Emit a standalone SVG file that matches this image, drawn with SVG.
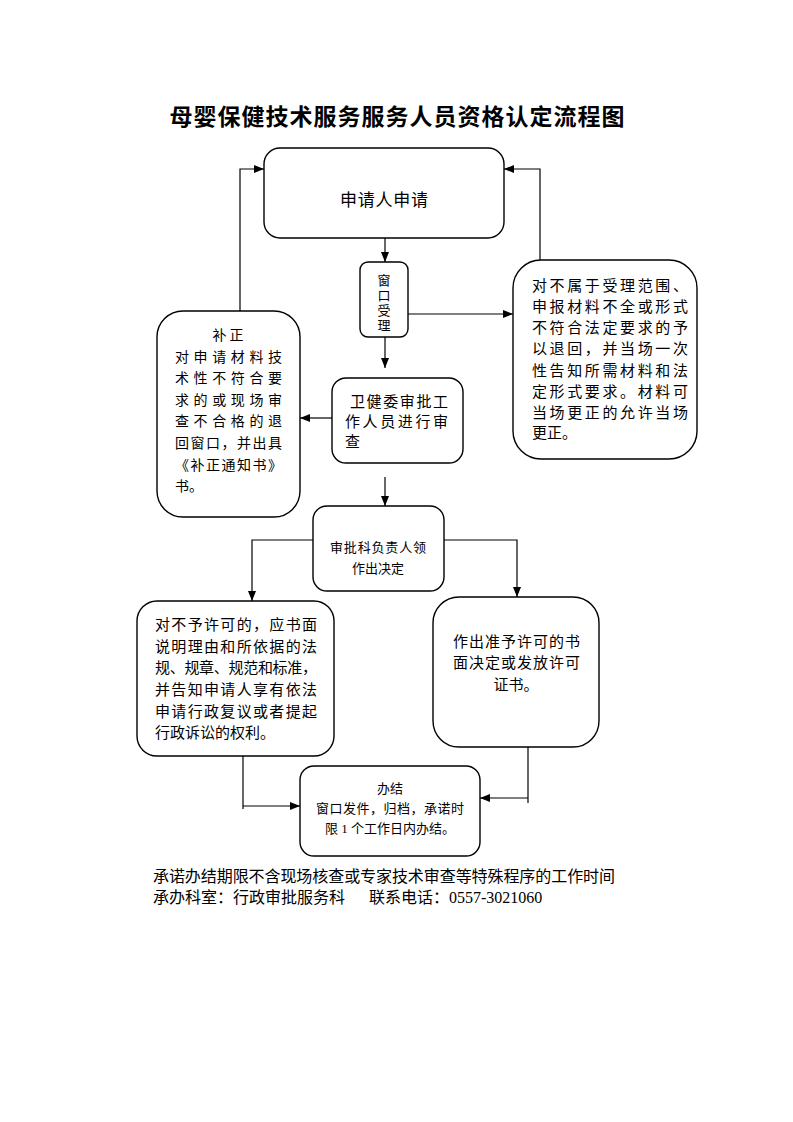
<svg xmlns="http://www.w3.org/2000/svg" width="793" height="1122" viewBox="0 0 793 1122">
<style>
.bg{fill:#fff}
.box{fill:#fff;stroke:#000;stroke-width:1.4}
.ln{fill:none;stroke:#000;stroke-width:1.2}
text{font-family:"Liberation Serif","Noto Sans CJK SC",serif;fill:#000}
.t{font-size:14px}
.t15{font-size:15px}
.t13{font-size:13px}
.title{font-size:23px;font-weight:bold}
</style>
<defs>
<marker id="ah" markerUnits="userSpaceOnUse" viewBox="0 0 10 8" refX="10" refY="4" markerWidth="10" markerHeight="8" orient="auto">
<path d="M0,0 L10,4 L0,8 z" fill="#000"/>
</marker>
</defs>
<rect class="bg" x="0" y="0" width="793" height="1122"/>
<text class="title" x="397" y="125" text-anchor="middle" textLength="455" lengthAdjust="spacing">母婴保健技术服务服务人员资格认定流程图</text>

<g id="n1">
<rect class="box" x="264" y="148" width="240" height="90" rx="16"/>
<text x="384" y="206" font-size="17" text-anchor="middle" textLength="88" lengthAdjust="spacing">申请人申请</text>
</g>

<g id="n2">
<rect class="box" x="360" y="262" width="48" height="75" rx="8"/>
<text class="t13" text-anchor="middle" x="384" y="285">窗</text>
<text class="t13" text-anchor="middle" x="384" y="300">口</text>
<text class="t13" text-anchor="middle" x="384" y="315">受</text>
<text class="t13" text-anchor="middle" x="384" y="330">理</text>
</g>

<g id="n3">
<rect class="box" x="513" y="260" width="184" height="199" rx="28"/>
<text class="t15" x="532" y="291" textLength="156" lengthAdjust="spacing">对不属于受理范围、</text>
<text class="t15" x="532" y="312" textLength="156" lengthAdjust="spacing">申报材料不全或形式</text>
<text class="t15" x="532" y="333" textLength="156" lengthAdjust="spacing">不符合法定要求的予</text>
<text class="t15" x="532" y="354" textLength="156" lengthAdjust="spacing">以退回，并当场一次</text>
<text class="t15" x="532" y="376" textLength="156" lengthAdjust="spacing">性告知所需材料和法</text>
<text class="t15" x="532" y="397" textLength="156" lengthAdjust="spacing">定形式要求。材料可</text>
<text class="t15" x="532" y="418" textLength="156" lengthAdjust="spacing">当场更正的允许当场</text>
<text class="t15" x="532" y="438">更正。</text>
</g>

<g id="n4">
<rect class="box" x="332" y="378" width="131" height="85" rx="14"/>
<text class="t15" x="350" y="407" textLength="98" lengthAdjust="spacing">卫健委审批工</text>
<text class="t15" x="345" y="427" textLength="103" lengthAdjust="spacing">作人员进行审</text>
<text class="t15" x="345" y="447">查</text>
</g>

<g id="n5">
<rect class="box" x="157" y="311" width="143" height="206" rx="26"/>
<text class="t" x="228" y="340" text-anchor="middle" textLength="31" lengthAdjust="spacing">补正</text>
<text class="t" x="175" y="362" textLength="107" lengthAdjust="spacing">对申请材料技</text>
<text class="t" x="175" y="383" textLength="107" lengthAdjust="spacing">术性不符合要</text>
<text class="t" x="175" y="405" textLength="107" lengthAdjust="spacing">求的或现场审</text>
<text class="t" x="175" y="426" textLength="107" lengthAdjust="spacing">查不合格的退</text>
<text class="t" x="175" y="448" textLength="107" lengthAdjust="spacing">回窗口，并出具</text>
<text class="t" x="175" y="470" textLength="107" lengthAdjust="spacing">《补正通知书》</text>
<text class="t" x="175" y="491">书。</text>
</g>

<g id="n6">
<rect class="box" x="313" y="506" width="131" height="85" rx="14"/>
<text class="t13" x="378" y="552" text-anchor="middle" textLength="96" lengthAdjust="spacing">审批科负责人领</text>
<text class="t13" x="378" y="573" text-anchor="middle">作出决定</text>
</g>

<g id="n7">
<rect class="box" x="137" y="601" width="197" height="155" rx="20"/>
<text class="t15" x="155" y="630" textLength="162" lengthAdjust="spacing">对不予许可的，应书面</text>
<text class="t15" x="155" y="652" textLength="162" lengthAdjust="spacing">说明理由和所依据的法</text>
<text class="t15" x="155" y="673" textLength="162" lengthAdjust="spacing">规、规章、规范和标准，</text>
<text class="t15" x="155" y="695" textLength="162" lengthAdjust="spacing">并告知申请人享有依法</text>
<text class="t15" x="155" y="717" textLength="162" lengthAdjust="spacing">申请行政复议或者提起</text>
<text class="t15" x="155" y="738">行政诉讼的权利。</text>
</g>

<g id="n8">
<rect class="box" x="433" y="597" width="166" height="150" rx="26"/>
<text class="t15" x="453" y="647" textLength="127" lengthAdjust="spacing">作出准予许可的书</text>
<text class="t15" x="453" y="668" textLength="127" lengthAdjust="spacing">面决定或发放许可</text>
<text class="t15" x="516" y="690" text-anchor="middle">证书。</text>
</g>

<g id="n9">
<rect class="box" x="300" y="766" width="180" height="90" rx="14"/>
<text class="t13" x="390" y="793" text-anchor="middle">办结</text>
<text class="t13" x="390" y="813" text-anchor="middle" textLength="148" lengthAdjust="spacing">窗口发件，归档，承诺时</text>
<text class="t13" x="390" y="833" text-anchor="middle">限 1 个工作日内办结。</text>
</g>

<g id="connectors">
<path class="ln" d="M385,238 V262" marker-end="url(#ah)"/>
<path class="ln" d="M385,337 V368" marker-end="url(#ah)"/>
<path class="ln" d="M408,314 H513" marker-end="url(#ah)"/>
<path class="ln" d="M540,260 V169 H504" marker-end="url(#ah)"/>
<path class="ln" d="M240,311 V169 H264" marker-end="url(#ah)"/>
<path class="ln" d="M332,418 H300" marker-end="url(#ah)"/>
<path class="ln" d="M385,477 V506" marker-end="url(#ah)"/>
<path class="ln" d="M313,540 H252 V601" marker-end="url(#ah)"/>
<path class="ln" d="M444,540 H517 V597" marker-end="url(#ah)"/>
<path class="ln" d="M243,756 V809"/>
<path class="ln" d="M243,806 H300" marker-end="url(#ah)"/>
<path class="ln" d="M528,747 V803"/>
<path class="ln" d="M528,798 H480" marker-end="url(#ah)"/>
</g>

<text x="153" y="882" font-size="16" textLength="462" lengthAdjust="spacing">承诺办结期限不含现场核查或专家技术审查等特殊程序的工作时间</text>
<text x="153" y="903" font-size="16" xml:space="preserve">承办科室：行政审批服务科      联系电话：0557-3021060</text>
</svg>
